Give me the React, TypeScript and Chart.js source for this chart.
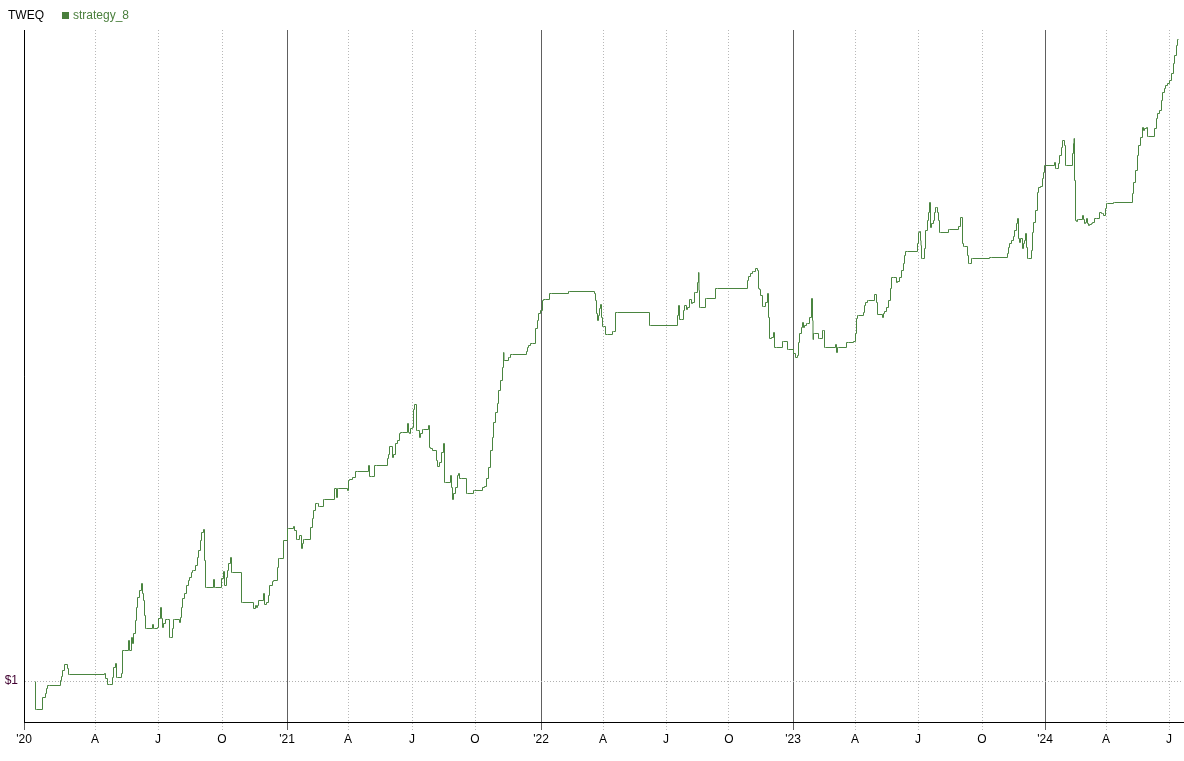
import React, { useEffect, useRef } from "react";
import { Chart, registerables } from "chart.js";

Chart.register(...registerables);

// Trading-day index since 1 Jan 2020 (x) and equity in $ (y)
const tradingDay = [
  11, 12, 18, 21, 22, 23, 25, 36, 37, 38, 40, 43, 44, 45, 80, 81, 83, 85, 88, 89, 91, 92, 93, 97, 98, 100, 104, 105, 107, 108, 109, 111, 112, 113, 115, 117, 118, 119, 120, 121, 122, 128, 129, 130, 133, 134, 136, 137, 138, 139, 141, 143, 145, 146, 148, 149, 150, 155, 156, 157, 158, 160, 162, 164, 165, 167, 168, 169, 171, 173, 174, 176, 177, 179, 180, 181, 182, 189, 190, 191, 197, 199, 200, 202, 203, 204, 206, 207, 208, 217, 218, 229, 231, 232, 233, 234, 239, 240, 242, 244, 245, 248, 249, 253, 254, 255, 259,
  263, 264, 269, 270, 272, 273, 275, 277, 278, 279, 280, 286, 288, 289, 291, 293, 294, 295, 299, 300, 310, 312, 313, 314, 323, 324, 325, 328, 331, 333, 344, 345, 347, 350, 352, 363, 364, 365, 368, 369, 371, 373, 375, 376, 378, 383, 384, 385, 386, 388, 389, 390, 392, 393, 395, 396, 398, 399, 404, 405, 406, 408, 412, 413, 415, 417, 419, 420, 421, 426, 427, 428, 429, 431, 433, 434, 435, 437, 442, 443, 449, 450, 458, 460, 462, 464, 466, 468, 469, 471, 473, 474, 476, 478, 479, 479.5, 480, 484, 485, 486, 488, 502, 503, 504, 506, 508, 511, 513, 514, 516,
  518, 519, 521, 525, 527, 544, 545, 570, 571, 572, 573, 574, 575, 576, 577, 578, 579, 581, 583, 588, 589, 591, 593, 625, 626, 653, 654, 655, 657, 659, 660, 662, 663, 665, 667, 668, 670, 671, 673, 674, 674.5, 675, 676, 681, 682, 691, 693, 723, 724, 726, 728, 729, 731, 733, 734, 735, 736, 738, 739, 741, 743, 744, 745, 747, 749, 750, 752, 758, 759, 763, 764,
  769, 771, 773, 774, 775, 777, 778, 779, 780, 782, 783, 785, 787, 788, 788.5, 789, 790, 794, 795, 798, 799, 800, 801, 811, 812, 813, 814, 822, 824, 829, 831, 832, 833, 834, 839, 840, 841, 843, 844, 850, 852, 853, 853.5, 858, 859, 860, 862, 864, 866, 867, 869, 872, 873, 875, 877, 879, 880, 881, 883, 893, 894, 895, 896, 896.5, 897, 898, 900, 901, 903, 904, 905, 906, 907, 909, 910, 911, 912, 913, 914, 915, 916, 924, 925, 934, 936, 938, 939, 940, 943, 944, 945, 947, 948, 965, 967, 983, 984, 985, 987, 989, 990, 992, 993, 994, 995, 996, 998, 999, 1000, 1001, 1002, 1003, 1004, 1007, 1008, 1009, 1011, 1013, 1014, 1016, 1018, 1019, 1020,
  1021, 1030, 1031, 1032, 1034, 1035, 1037, 1038, 1040, 1041, 1042, 1048, 1049, 1049.5, 1050, 1051, 1052, 1053, 1054, 1058, 1059, 1060, 1061, 1062, 1063, 1064, 1065, 1067, 1068, 1070, 1072, 1075, 1077, 1078, 1079, 1081, 1082, 1083, 1089, 1090, 1108, 1109, 1111, 1113, 1114, 1116, 1118, 1119, 1120, 1122, 1123, 1124, 1130, 1132, 1133, 1135, 1137, 1138, 1140, 1141, 1143, 1145, 1147, 1149, 1150, 1152, 1153, 1154,
];

const equity = [
  1.0, 0.72, 0.72, 0.84, 0.88, 0.93, 0.96, 0.96, 1.01, 1.05, 1.11, 1.17, 1.13, 1.07, 1.07, 1.08, 1.03, 0.97, 0.97, 1.04, 1.14, 1.18, 1.04, 1.04, 1.08, 1.31, 1.31, 1.41, 1.31, 1.44, 1.38, 1.48, 1.61, 1.74, 1.84, 1.91, 1.98, 1.88, 1.81, 1.66, 1.53, 1.53, 1.57, 1.53, 1.53, 1.54, 1.63, 1.74, 1.63, 1.54, 1.58, 1.62, 1.62, 1.44, 1.44, 1.53, 1.62, 1.62, 1.59, 1.64, 1.74, 1.83, 1.88, 1.96, 2.01, 2.04, 2.09, 2.11, 2.11, 2.16, 2.24, 2.31, 2.41, 2.49, 2.52, 2.21, 1.94, 1.94, 2.02, 1.94, 1.94, 2.03, 2.1, 1.96, 2.04, 2.11, 2.18, 2.24, 2.09, 2.09, 1.79, 1.79, 1.73, 1.76, 1.74, 1.76, 1.81, 1.88, 1.77, 1.79, 1.86, 1.96, 2.0, 2.01, 2.14, 2.23, 2.23,
  2.41, 2.53, 2.53, 2.55, 2.51, 2.42, 2.42, 2.46, 2.33, 2.38, 2.42, 2.42, 2.54, 2.63, 2.71, 2.78, 2.78, 2.75, 2.75, 2.82, 2.82, 2.93, 2.84, 2.93, 2.93, 2.91, 3.01, 3.02, 3.04, 3.1, 3.1, 3.16, 3.05, 3.05, 3.16, 3.16, 3.23, 3.27, 3.35, 3.24, 3.27, 3.38, 3.41, 3.48, 3.49, 3.49, 3.58, 3.49, 3.48, 3.53, 3.54, 3.72, 3.77, 3.51, 3.51, 3.44, 3.48, 3.52, 3.52, 3.56, 3.34, 3.33, 3.31, 3.21, 3.15, 3.19, 3.29, 3.38, 2.99, 2.99, 3.06, 2.94, 2.82, 2.88, 2.94, 3.06, 3.08, 3.03, 3.03, 2.88, 2.88, 2.91, 2.91, 2.94, 2.95, 3.03, 3.14, 3.31, 3.44, 3.59, 3.69, 3.78, 3.91, 4.01, 4.14, 4.29, 4.21, 4.21, 4.24, 4.24, 4.27, 4.27, 4.3, 4.34, 4.36, 4.38, 4.38, 4.53, 4.61, 4.68,
  4.71, 4.81, 4.82, 4.82, 4.88, 4.88, 4.9, 4.9, 4.88, 4.81, 4.68, 4.61, 4.66, 4.73, 4.77, 4.64, 4.55, 4.55, 4.47, 4.47, 4.5, 4.5, 4.69, 4.69, 4.56, 4.56, 4.66, 4.76, 4.62, 4.62, 4.71, 4.76, 4.72, 4.74, 4.82, 4.78, 4.79, 4.89, 4.89, 4.99, 5.09, 4.91, 4.74, 4.74, 4.83, 4.83, 4.93, 4.93, 5.01, 5.05, 5.08, 5.1, 5.1, 5.13, 5.11, 4.93, 4.92, 4.86, 4.75, 4.75, 4.79, 4.88, 4.64, 4.43, 4.44, 4.49, 4.34, 4.34, 4.4, 4.4, 4.32,
  4.32, 4.28, 4.24, 4.26, 4.39, 4.48, 4.54, 4.59, 4.54, 4.56, 4.58, 4.58, 4.64, 4.83, 4.61, 4.42, 4.48, 4.48, 4.43, 4.43, 4.51, 4.51, 4.34, 4.34, 4.37, 4.29, 4.34, 4.34, 4.39, 4.39, 4.4, 4.48, 4.63, 4.66, 4.66, 4.69, 4.76, 4.79, 4.81, 4.81, 4.87, 4.79, 4.67, 4.67, 4.64, 4.68, 4.7, 4.74, 4.81, 4.93, 5.04, 5.04, 4.99, 5.0, 5.04, 5.11, 5.18, 5.26, 5.3, 5.3, 5.38, 5.49, 5.5, 5.41, 5.36, 5.23, 5.23, 5.33, 5.51, 5.61, 5.69, 5.79, 5.54, 5.58, 5.61, 5.69, 5.74, 5.74, 5.69, 5.61, 5.49, 5.49, 5.52, 5.52, 5.55, 5.64, 5.38, 5.35, 5.35, 5.26, 5.18, 5.18, 5.23, 5.23, 5.24, 5.24, 5.28, 5.34, 5.38, 5.41, 5.45, 5.51, 5.58, 5.63, 5.43, 5.39, 5.43, 5.33, 5.38, 5.41, 5.48, 5.34, 5.23, 5.23, 5.31, 5.49, 5.59, 5.71, 5.89, 5.94, 5.95, 6.03, 6.09,
  6.16, 6.16, 6.19, 6.13, 6.13, 6.18, 6.26, 6.34, 6.41, 6.36, 6.16, 6.16, 6.28, 6.38, 6.43, 6.01, 5.61, 5.6, 5.62, 5.62, 5.66, 5.62, 5.58, 5.59, 5.63, 5.58, 5.56, 5.57, 5.58, 5.59, 5.63, 5.63, 5.69, 5.68, 5.68, 5.66, 5.73, 5.78, 5.78, 5.79, 5.79, 5.88, 5.99, 6.11, 6.26, 6.36, 6.44, 6.54, 6.51, 6.53, 6.54, 6.45, 6.45, 6.53, 6.63, 6.68, 6.71, 6.81, 6.89, 6.93, 6.96, 6.98, 7.01, 7.08, 7.18, 7.26, 7.36, 7.42,
];

const tickDays = [0, 71, 134, 198, 263, 324, 388, 451, 517, 579, 642, 705, 769, 831, 894, 958, 1021, 1082, 1145];
const tickLabels = ["'20", "A", "J", "O", "'21", "A", "J", "O", "'22", "A", "J", "O", "'23", "A", "J", "O", "'24", "A", "J"];
const yearTickDays = [0, 263, 517, 769, 1021];
const yTickValues = [1];
const yTickLabels = ["$1"];

const seriesName = "strategy_8";
const symbolName = "TWEQ";

const FONT = "Arial, 'Liberation Sans', sans-serif";
const LINE_COLOR = "#4a8540";

// Shift the dataset drawing by half a pixel so 1px lines are crisp
const crispLines = {
  id: "crispLines",
  beforeDatasetsDraw(chart: any) {
    chart.ctx.save();
    chart.ctx.translate(0.5, 0.5);
  },
  afterDatasetsDraw(chart: any) {
    chart.ctx.restore();
  },
};

export default function App() {
  const canvasRef = useRef<HTMLCanvasElement | null>(null);

  useEffect(() => {
    const canvas = canvasRef.current;
    if (!canvas) return;
    const points = tradingDay.map((d, i) => ({ x: d, y: equity[i] }));
    const isYear = (ctx: any) => ctx && ctx.tick && yearTickDays.includes(ctx.tick.value);

    const chart = new Chart(canvas, {
      type: "line",
      data: {
        datasets: [
          {
            label: seriesName,
            data: points,
            borderColor: LINE_COLOR,
            backgroundColor: LINE_COLOR,
            borderWidth: 1,
            pointRadius: 0,
            stepped: "after",
            fill: false,
          },
        ],
      },
      plugins: [crispLines],
      options: {
        responsive: false,
        animation: false,
        layout: { padding: { top: 30, right: 1, left: 0, bottom: 0 } },
        plugins: {
          legend: { display: false },
          tooltip: { enabled: false },
          title: { display: false },
        },
        scales: {
          x: {
            type: "linear",
            min: 0,
            max: 1159,
            afterBuildTicks: (scale: any) => {
              scale.ticks = tickDays.map((v) => ({ value: v }));
            },
            afterFit: (scale: any) => {
              scale.height = 39;
            },
            ticks: {
              autoSkip: false,
              maxRotation: 0,
              minRotation: 0,
              padding: 2,
              color: "#000",
              font: { family: FONT, size: 12 },
              callback: (_v: any, i: number) => tickLabels[i],
            },
            grid: {
              display: true,
              drawOnChartArea: true,
              drawTicks: true,
              tickLength: 8,
              lineWidth: 1,
              color: (ctx: any) => (isYear(ctx) ? "#606060" : "#b8b8b8"),
              tickColor: (ctx: any) => (isYear(ctx) ? "#606060" : "#b8b8b8"),
              tickBorderDash: (ctx: any) => (isYear(ctx) ? [] : [1, 2]),
            },
            border: {
              display: true,
              color: "#000",
              width: 1,
              dash: (ctx: any) => (ctx && ctx.tick ? (isYear(ctx) ? [] : [1, 2]) : []),
            },
          },
          y: {
            type: "linear",
            min: 0.59,
            max: 7.51,
            afterBuildTicks: (scale: any) => {
              scale.ticks = yTickValues.map((v) => ({ value: v }));
            },
            afterFit: (scale: any) => {
              scale.width = 24;
            },
            ticks: {
              padding: 6,
              color: "#400030",
              font: { family: FONT, size: 12 },
              callback: (_v: any, i: number) => yTickLabels[i],
            },
            grid: {
              display: true,
              drawTicks: false,
              color: "#b0b0b0",
              lineWidth: 1,
            },
            border: {
              display: true,
              color: "#000",
              width: 1,
              dash: (ctx: any) => (ctx && ctx.tick ? [1, 2] : []),
            },
          },
        },
      },
    } as any);

    return () => {
      chart.destroy();
    };
  }, []);

  return (
    <div style={{ position: "absolute", left: 0, top: 0, width: 1184, height: 761, background: "#fff" }}>
      <canvas ref={canvasRef} width={1184} height={761} style={{ position: "absolute", left: 0, top: 0 }} />
      <div
        style={{
          position: "absolute",
          left: 8,
          top: 8,
          fontFamily: FONT,
          fontSize: 12,
          lineHeight: "14px",
          color: "#000",
          whiteSpace: "nowrap",
        }}
      >
        {symbolName}
      </div>
      <div
        style={{
          position: "absolute",
          left: 62,
          top: 8,
          fontFamily: FONT,
          fontSize: 12,
          lineHeight: "14px",
          color: "#4a7f3c",
          whiteSpace: "nowrap",
          display: "flex",
          alignItems: "center",
        }}
      >
        <span style={{ display: "inline-block", width: 7, height: 7, background: "#4a7f3c", marginRight: 4 }} />
        {seriesName}
      </div>
    </div>
  );
}
